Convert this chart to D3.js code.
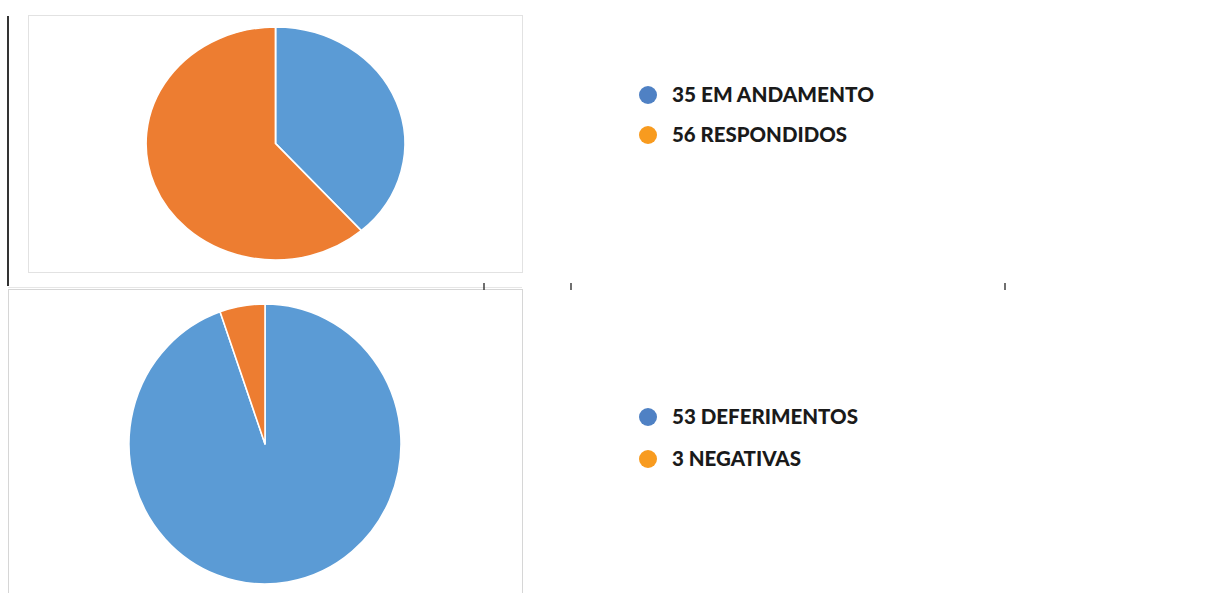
<!DOCTYPE html>
<html>
<head>
<meta charset="utf-8">
<script src="https://cdn.jsdelivr.net/npm/d3@7"></script>
<style>
  body { margin: 0; background: #fff; }
  svg { display: block; }
  .legend text { font-family: Lato, "Open Sans", sans-serif; font-weight: 900; font-size: 20px; fill: #1a1a1a; }
</style>
</head>
<body>
<svg id="chart" width="1231" height="593"></svg>
<script>
// top chart: request status
const statusLabels = ["EM ANDAMENTO", "RESPONDIDOS"];
const statusValues = [35, 56];
// bottom chart: answers
const answerLabels = ["DEFERIMENTOS", "NEGATIVAS"];
const answerValues = [53, 3];

const pieColors = ["#5b9bd5", "#ed7d31"];
const legendColors = ["#4f81c4", "#f89b1f"];

const svg = d3.select("#chart");

// frames, like the pasted chart boxes
svg.append("rect").attr("x", 28.5).attr("y", 15.5).attr("width", 494).attr("height", 257)
  .attr("fill", "none").attr("stroke", "#e2e2e2");
svg.append("rect").attr("x", 8.5).attr("y", 289.5).attr("width", 514).attr("height", 320)
  .attr("fill", "none").attr("stroke", "#d6d6d6");
svg.append("line").attr("x1", 8).attr("x2", 522).attr("y1", 287.5).attr("y2", 287.5)
  .attr("stroke", "#e6e6e6");

// black vertical rule on the left and small marks
svg.append("line").attr("x1", 8).attr("x2", 8).attr("y1", 16).attr("y2", 286)
  .attr("stroke", "#000").attr("stroke-width", 1.6);
[484, 571, 1005].forEach(x => {
  svg.append("line").attr("x1", x).attr("x2", x).attr("y1", 283).attr("y2", 290)
    .attr("stroke", "#222").attr("stroke-width", 1.3);
});

function drawPie(values, cx, cy, rx, ry) {
  const pie = d3.pie().sort(null).value(d => d);
  const arc = d3.arc().innerRadius(0).outerRadius(ry);
  const g = svg.append("g")
    .attr("transform", `translate(${cx},${cy}) scale(${rx / ry},1)`);
  g.selectAll("path")
    .data(pie(values))
    .join("path")
    .attr("d", arc)
    .attr("fill", (d, i) => pieColors[i])
    .attr("stroke", "#fff")
    .attr("stroke-width", 1.6)
    .attr("stroke-linejoin", "round");
}

function drawLegend(labels, values, x, ys, widths) {
  const g = svg.append("g").attr("class", "legend");
  labels.forEach((lab, i) => {
    g.append("circle").attr("cx", x).attr("cy", ys[i]).attr("r", 9)
      .attr("fill", legendColors[i]);
    g.append("text").attr("x", x + 24).attr("y", ys[i] + 7)
      .attr("textLength", widths[i]).attr("lengthAdjust", "spacingAndGlyphs")
      .text(values[i] + " " + lab);
  });
}

drawPie(statusValues, 275.5, 143.5, 129.5, 116.5);
drawPie(answerValues, 265, 444, 136, 140);

drawLegend(statusLabels, statusValues, 648, [95, 135], [202, 175]);
drawLegend(answerLabels, answerValues, 648, [417, 459], [186, 129]);
</script>
</body>
</html>
